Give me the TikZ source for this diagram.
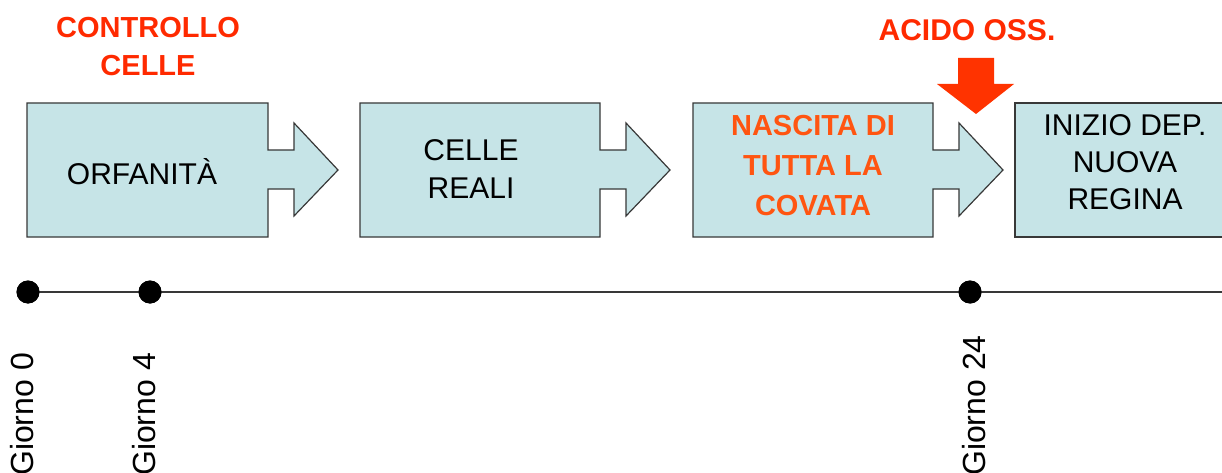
\documentclass[tikz,border=0pt]{standalone}
\usepackage{fontspec}
\setmainfont{Liberation Sans}
\definecolor{boxfill}{HTML}{C6E4E7}
\definecolor{edge}{HTML}{383838}
\definecolor{hdred}{HTML}{FF2A00}
\definecolor{boxorange}{HTML}{FF5511}
\definecolor{arrred}{HTML}{FF3300}
\begin{document}
\begin{tikzpicture}[x=1pt,y=-1pt,
  boxshape/.style={fill=boxfill, draw=edge, line width=1.2pt, line join=miter},
  boxtext/.style={inner sep=0pt, align=center, font=\fontsize{30}{38}\selectfont},
  hdtext/.style={inner sep=0pt, align=center, text=hdred, font=\bfseries\fontsize{29}{38}\selectfont},
  dotnode/.style={circle, fill=black, inner sep=0pt, minimum size=23pt},
  daylabel/.style={rotate=90, anchor=base west, inner sep=0pt, font=\fontsize{32}{38}\selectfont},
  tline/.style={draw=edge, line width=1.5pt}]
\useasboundingbox (0,0) rectangle (1222,473);
\clip (0,0) rectangle (1222,473);
% arrow boxes
\newcommand\arrowbox[2]{%
  \path[boxshape] (#1,103) -- (#2,103) -- (#2,150) -- ({#2+26},150) -- ({#2+26},123)
    -- ({#2+70},170) -- ({#2+26},216) -- ({#2+26},189) -- (#2,189) -- (#2,237)
    -- (#1,237) -- cycle;}
\arrowbox{27}{268}
\arrowbox{360}{600}
\arrowbox{693}{933}
\path[boxshape] (1015,103) rectangle (1260,237);
% box texts
\node[boxtext, anchor=base] (t1) at (142,184) {ORFANITÀ};
\node[boxtext] (t2) at (471,169) {CELLE\\REALI};
\node[boxtext, text=boxorange, font=\bfseries\fontsize{29}{40}\selectfont] (t3) at (813,166) {NASCITA DI\\TUTTA LA\\COVATA};
\node[boxtext, font=\fontsize{30}{37}\selectfont] (t4) at (1125,162) {INIZIO DEP.\\NUOVA\\REGINA};
% headers
\node[hdtext] (h1) at (148,47) {CONTROLLO\\CELLE};
\node[hdtext, font=\bfseries\fontsize{30}{34}\selectfont] (h2) at (967,30) {ACIDO OSS.};
% red down arrow
\fill[arrred] (958,58) -- (994,58) -- (994,84) -- (1014,84) -- (976,114) -- (937,84) -- (958,84) -- cycle;
% timeline
\coordinate (tend) at (1230,292);
\node[dotnode] (d0) at (28,292) {};
\node[dotnode] (d4) at (150,292) {};
\node[dotnode] (d24) at (970,292) {};
\draw[tline] (d0.center) -- (tend);
\node[dotnode] at (d0.center) {};
\node[dotnode] at (d4.center) {};
\node[dotnode] at (d24.center) {};
% day labels
\node[daylabel] (g0) at (33,476) {Giorno 0};
\node[daylabel] (g4) at (155,476) {Giorno 4};
\node[daylabel] (g24) at (985,476) {Giorno 24};
\end{tikzpicture}
\end{document}
